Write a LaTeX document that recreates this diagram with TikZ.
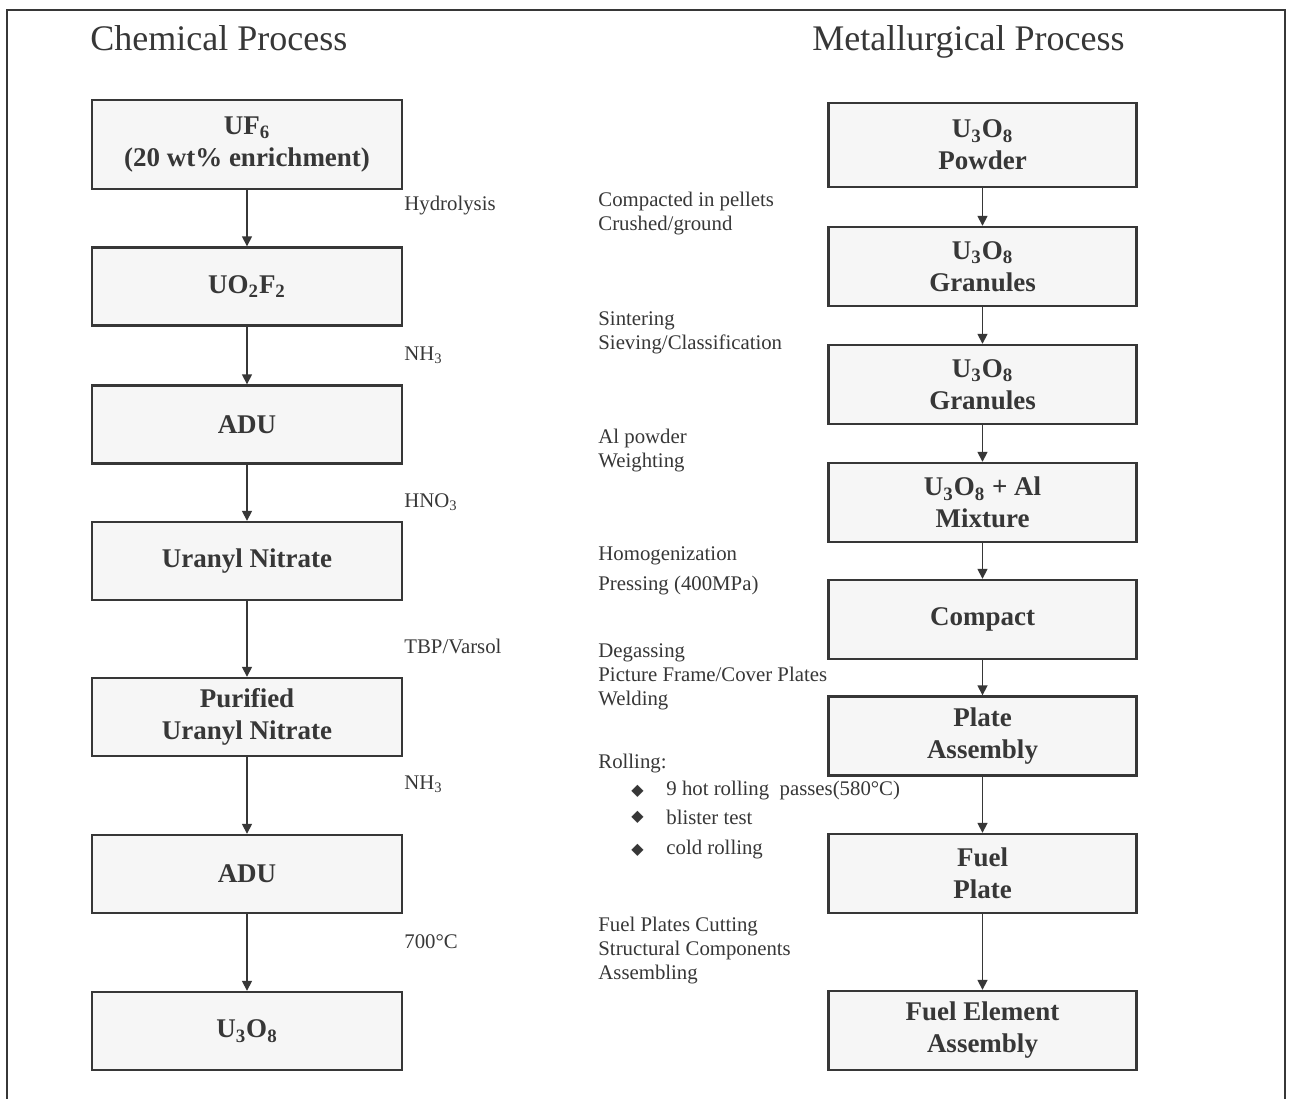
\documentclass[tikz,border=0pt]{standalone}
\usepackage{fontspec}
\setmainfont{Liberation Serif}
\newfontfamily\symfont{DejaVu Sans}
\usetikzlibrary{arrows.meta}
\definecolor{inkcolor}{RGB}{55, 55, 55}
\definecolor{boxfill}{RGB}{246, 246, 246}
\colorlet{bordercolor}{white}

\tikzset{
        stepbox/.style={draw=inkcolor, line width=1.2pt, fill=boxfill, align=center, text=inkcolor, inner sep=0pt,
                font=\fontsize{13.5}{16}\selectfont\bfseries},
        chembox/.style={stepbox, minimum width=155pt, minimum height=39pt},
        metbox/.style={stepbox, minimum width=154pt, minimum height=39.5pt},
        note/.style={anchor=west, align=left, inner sep=0pt, text=inkcolor, font=\fontsize{10.4}{12}\selectfont},
        heading/.style={anchor=base west, inner sep=0pt, text=inkcolor, font=\fontsize{18}{22}\selectfont},
        flow/.style={draw=inkcolor, line width=0.8pt, -{Triangle[length=5pt, width=5pt]}},
}

\begin{document}
\begin{tikzpicture}[x=0.5pt, y=-0.5pt]
        \useasboundingbox[fill=bordercolor] (0, 0) rectangle (1292, 1099);
        \draw[inkcolor, line width=1pt] (7, 1110) -- (7, 10) -- (1285, 10) -- (1285, 1110); % Frame
        % Chemical process {{{
        \node[heading] (chemtitle) at (90, 50) {Chemical Process};
        \node[chembox, minimum height=44.5pt] (uf6) at (247, 144.5) {UF\textsubscript{6}\\(20 wt\% enrichment)};
        \node[chembox] (uo2f2) at (247, 286.5) {UO\textsubscript{2}F\textsubscript{2}};
        \node[chembox] (adu1) at (247, 424.5) {ADU};
        \node[chembox] (nitrate) at (247, 561) {Uranyl Nitrate};
        \node[chembox] (purified) at (247, 717) {Purified\\Uranyl Nitrate};
        \node[chembox] (adu2) at (247, 874) {ADU};
        \node[chembox] (oxide) at (247, 1031) {U\textsubscript{3}O\textsubscript{8}};
        \draw[flow] (uf6) -- (uo2f2);
        \draw[flow] (uo2f2) -- (adu1);
        \draw[flow] (adu1) -- (nitrate);
        \draw[flow] (nitrate) -- (purified);
        \draw[flow] (purified) -- (adu2);
        \draw[flow] (adu2) -- (oxide);
        \node[note] (hydrolysis) at (404, 206) {Hydrolysis};
        \node[note] (ammonia1) at (404, 355) {NH\textsubscript{3}};
        \node[note] (nitric) at (404, 502) {HNO\textsubscript{3}};
        \node[note] (tbp) at (404, 646) {TBP/Varsol};
        \node[note] (ammonia2) at (404, 784) {NH\textsubscript{3}};
        \node[note] (calcine) at (404, 942) {700°C};
        % }}}
        % Metallurgical process {{{
        \node[heading] (mettitle) at (812, 50) {Metallurgical Process};
        \node[metbox, minimum height=42pt] (powder) at (982.5, 145) {U\textsubscript{3}O\textsubscript{8}\\Powder};
        \node[metbox] (granules1) at (982.5, 266.5) {U\textsubscript{3}O\textsubscript{8}\\Granules};
        \node[metbox] (granules2) at (982.5, 384.5) {U\textsubscript{3}O\textsubscript{8}\\Granules};
        \node[metbox] (mixture) at (982.5, 502.5) {U\textsubscript{3}O\textsubscript{8} + Al\\Mixture};
        \node[metbox] (compact) at (982.5, 619.5) {Compact};
        \node[metbox] (assembly) at (982.5, 736) {Plate\\Assembly};
        \node[metbox] (plate) at (982.5, 873.5) {Fuel\\Plate};
        \node[metbox] (element) at (982.5, 1030.5) {Fuel Element\\Assembly};
        \draw[flow] (powder) -- (granules1);
        \draw[flow] (granules1) -- (granules2);
        \draw[flow] (granules2) -- (mixture);
        \draw[flow] (mixture) -- (compact);
        \draw[flow] (compact) -- (assembly);
        \draw[flow] (assembly) -- (plate);
        \draw[flow] (plate) -- (element);
        \node[note] (pellets) at (598, 213.5) {Compacted in pellets\\Crushed/ground};
        \node[note] (sintering) at (598, 333) {Sintering\\Sieving/Classification};
        \node[note] (alpowder) at (598, 450.5) {Al powder\\Weighting};
        \node[note] (pressing) at (598, 571) {Homogenization\\[3pt]Pressing (400MPa)};
        \node[note] (degassing) at (598, 677) {Degassing\\Picture Frame/Cover Plates\\Welding};
        \node[note] (rolling) at (598, 764) {Rolling:};
        \node[note] (hotroll) at (666, 791) {9 hot rolling\ \ passes(580°C)};
        \node[note] (blister) at (666, 817) {blister test};
        \node[note] (coldroll) at (666, 850) {cold rolling};
        \foreach \y in {791, 817, 850} \node[note, font=\symfont\fontsize{8}{9}\selectfont] (bullet\y) at (631, \y) {◆};
        \node[note] (cutting) at (598, 951) {Fuel Plates Cutting\\Structural Components\\Assembling};
        % }}}
\end{tikzpicture}
\end{document}
